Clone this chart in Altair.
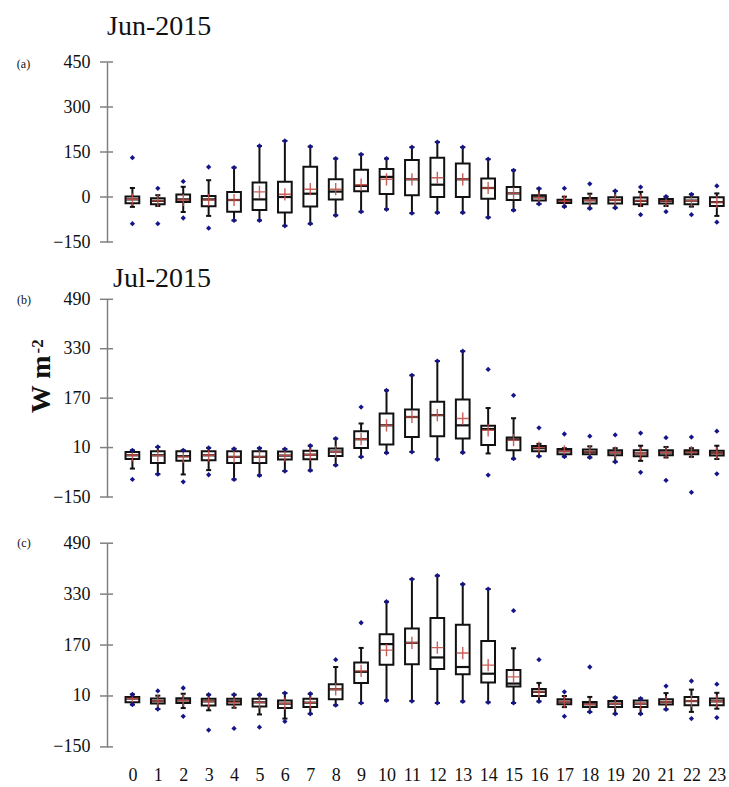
import altair as alt
import pandas as pd

hours = list(range(24))

# ---- Jun-2015: hourly distribution (W m-2) ----
jun_hi_dot = [131, 29, 52, 100, 98, 170, 187, 168, 128, 142, 128, 166, 183, 166, 126, 89, 28, 29, 44, 20, 33, 1, 9, 37]
jun_w_hi = [30, 6, 34, 56, 98, 170, 187, 168, 128, 142, 128, 166, 183, 166, 126, 89, 28, 1, 11, 20, 17, 1, 9, 12]
jun_q3 = [2, -4, 8, 3, 17, 48, 51, 101, 59, 91, 93, 123, 131, 112, 62, 33, 6, -9, -3, -1, -2, -7, -1, -1]
jun_med = [-8, -13, -8, -8, -10, -8, 0, 11, 18, 37, 67, 59, 41, 59, 30, 12, -1, -13, -11, -10, -13, -13, -12, -17]
jun_q1 = [-21, -24, -17, -31, -49, -43, -52, -32, -8, 19, 10, 6, 0, 0, -6, -10, -12, -20, -22, -22, -24, -22, -24, -30]
jun_w_lo = [-33, -30, -50, -63, -78, -78, -96, -89, -61, -49, -41, -54, -52, -52, -68, -44, -23, -32, -38, -36, -30, -30, -32, -63]
jun_lo_dot = [-89, -89, -70, -104, -78, -78, -96, -89, -61, -49, -41, -54, -52, -52, -68, -44, -23, -32, -38, -36, -59, -49, -59, -84]
jun_mean = [-8, -13, -10, -10, -10, 17, 9, 26, 26, 41, 59, 59, 64, 59, 30, 12, -2, -14, -11, -10, -13, -13, -12, -17]

# ---- Jul-2015 ----
jul_hi_dot = [1, 12, 1, 9, 6, 8, 5, 16, 39, 141, 195, 244, 290, 322, 263, 179, 74, 54, 47, 51, 57, 42, 44, 63]
jul_w_hi = [1, 12, 1, 9, 6, 8, 5, 16, 39, 88, 195, 244, 290, 322, 138, 105, 22, 8, 14, 8, 16, 12, 8, 16]
jul_q3 = [-4, -2, -2, -2, -2, -2, -3, 0, 7, 63, 120, 133, 158, 166, 81, 43, 15, 5, 4, 1, 1, 1, 1, 0]
jul_med = [-15, -15, -18, -15, -20, -20, -16, -13, -3, 37, 82, 109, 115, 82, 70, 36, 8, -2, -4, -6, -9, -6, -5, -8]
jul_q1 = [-27, -40, -33, -31, -40, -40, -29, -28, -17, 9, 20, 44, 47, 39, 18, 1, -2, -12, -12, -15, -18, -15, -12, -16]
jul_w_lo = [-58, -76, -77, -63, -93, -80, -66, -64, -47, -20, -7, -4, -28, -6, -9, -26, -18, -19, -22, -36, -33, -22, -20, -27]
jul_lo_dot = [-93, -76, -101, -78, -93, -80, -66, -64, -47, -20, -7, -4, -28, -6, -79, -26, -18, -19, -22, -36, -70, -96, -135, -75]
jul_mean = [-15, -16, -20, -15, -20, -20, -16, -13, -3, 37, 82, 109, 115, 104, 66, 34, 10, -2, -4, -6, -9, -6, -5, -8]

# ---- third month ----
c_hi_dot = [15, 26, 35, 14, 14, 14, 19, 17, 124, 240, 306, 377, 388, 361, 346, 278, 124, 23, 101, 5, 2, 41, 57, 47]
c_w_hi = [15, 11, 17, 14, 14, 14, 19, 17, 101, 161, 306, 377, 388, 361, 346, 160, 51, 10, 7, 5, 2, 19, 30, 20]
c_q3 = [7, 2, 3, 1, 1, 1, -4, 1, 47, 115, 204, 222, 255, 234, 183, 92, 32, 0, -9, -6, -4, 0, 7, 2]
c_med = [2, -6, -4, -7, -7, -10, -14, -11, 31, 86, 173, 177, 131, 101, 80, 49, 23, -8, -16, -14, -14, -9, -6, -7]
c_q1 = [-10, -14, -12, -20, -17, -23, -28, -25, 0, 51, 108, 110, 95, 78, 52, 40, 10, -16, -25, -25, -25, -17, -19, -19]
c_w_lo = [-17, -31, -28, -35, -27, -48, -61, -46, -19, -12, -4, -6, -12, -7, -10, -12, -7, -25, -40, -46, -46, -32, -40, -30]
c_lo_dot = [-17, -31, -54, -97, -92, -88, -70, -46, -19, -12, -4, -6, -12, -7, -10, -12, -7, -54, -40, -46, -46, -32, -61, -58]
c_mean = [2, -6, -4, -7, -10, -10, -14, -11, 31, 89, 154, 177, 162, 145, 107, 70, 23, -8, -16, -14, -14, -9, -6, -7]

ticks_a = [-150, 0, 150, 300, 450]
ticks_bc = [-150, 10, 170, 330, 490]

FONT = "Liberation Serif"
AXIS_GRAY = "#808080"
BOX_COLOR = "#111111"
DOT_COLOR = "#15158a"
MEAN_COLOR = "#c4504a"
PLUS = "M-1,0L1,0M0,-1L0,1"


def frame(hi_dot, w_hi, q3, med, q1, w_lo, lo_dot, mean):
    return pd.DataFrame({
        "hour": hours, "hi_dot": hi_dot, "w_hi": w_hi, "q3": q3, "med": med,
        "q1": q1, "w_lo": w_lo, "lo_dot": lo_dot, "mean": mean,
    })


def panel(df, ticks, height, yrange, show_x, notes):
    xscale = alt.Scale(domain=[-1, 23.4], nice=False, zero=False)
    yscale = alt.Scale(domain=[ticks[0], ticks[-1]], range=yrange, nice=False, zero=False)
    yaxis = alt.Axis(values=ticks, ticks=False, tickSize=0, grid=False, domainColor=AXIS_GRAY,
                     domainWidth=1.5, labelFont=FONT, labelFontSize=18, labelColor="#111",
                     labelPadding=17, title=None)
    xaxis = None
    if show_x:
        xaxis = alt.Axis(values=hours, ticks=False, tickSize=0, domain=False, grid=False,
                         labelFont=FONT, labelFontSize=18, labelColor="#111", labelPadding=20,
                         labelAngle=0, format="d", title=None)

    base = alt.Chart(df).transform_calculate(
        xl="datum.hour - 0.27", xr="datum.hour + 0.27",
        cl="datum.hour - 0.1", cr="datum.hour + 0.1",
    )

    # every layer carries the same axis definition so the merged axis keeps it
    def X(f):
        return alt.X(f, scale=xscale, axis=xaxis, title=None)

    def Y(f):
        return alt.Y(f, scale=yscale, axis=yaxis, title=None)

    whisker = base.mark_rule(color=BOX_COLOR, strokeWidth=2).encode(
        x=X("hour:Q"), y=Y("w_lo:Q"), y2="w_hi:Q")
    cap_hi = base.mark_rule(color=BOX_COLOR, strokeWidth=2).encode(
        x=X("cl:Q"), x2="cr:Q", y=Y("w_hi:Q"))
    cap_lo = base.mark_rule(color=BOX_COLOR, strokeWidth=2).encode(
        x=X("cl:Q"), x2="cr:Q", y=Y("w_lo:Q"))
    box = base.mark_rect(fill="white", stroke=BOX_COLOR, strokeWidth=2).encode(
        x=X("xl:Q"), x2="xr:Q", y=Y("q1:Q"), y2="q3:Q")
    median = base.mark_rule(color=BOX_COLOR, strokeWidth=2.2).encode(
        x=X("xl:Q"), x2="xr:Q", y=Y("med:Q"))
    mean = base.mark_point(shape=PLUS, filled=False, color=MEAN_COLOR, strokeWidth=1.4,
                           size=150, opacity=0.9).encode(x=X("hour:Q"), y=Y("mean:Q"))
    dots_hi = base.mark_point(shape="diamond", filled=True, color=DOT_COLOR, size=28,
                              opacity=1).encode(x=X("hour:Q"), y=Y("hi_dot:Q"))
    dots_lo = base.mark_point(shape="diamond", filled=True, color=DOT_COLOR, size=28,
                              opacity=1).encode(x=X("hour:Q"), y=Y("lo_dot:Q"))

    # axis ticks crossing the vertical axis line
    cross = alt.Chart(pd.DataFrame({"t": ticks})).mark_rule(
        color=AXIS_GRAY, strokeWidth=1.5).encode(
        y=Y("t:Q"), x=alt.value(-7), x2=alt.value(6))

    layers = [whisker, cross, cap_hi, cap_lo, box, median, mean, dots_hi, dots_lo]
    for text, x, y, size, weight, align, baseline, angle in notes:
        layers.append(
            alt.Chart(pd.DataFrame({"t": [text]})).mark_text(
                font=FONT, fontSize=size, fontWeight=weight, align=align,
                baseline=baseline, angle=angle, color="#111").encode(
                text="t:N", x=alt.value(x), y=alt.value(y)))
    return alt.layer(*layers).properties(width=620, height=height)


df_a = frame(jun_hi_dot, jun_w_hi, jun_q3, jun_med, jun_q1, jun_w_lo, jun_lo_dot, jun_mean)
df_b = frame(jul_hi_dot, jul_w_hi, jul_q3, jul_med, jul_q1, jul_w_lo, jul_lo_dot, jul_mean)
df_c = frame(c_hi_dot, c_w_hi, c_q3, c_med, c_q1, c_w_lo, c_lo_dot, c_mean)

panel_a = panel(df_a, ticks_a, 180, [180, 0], False, [
    ("Jun-2015", 0, -27, 28, "normal", "left", "alphabetic", 0),
    ("(a)", -83.5, 1.5, 12, "normal", "center", "middle", 0),
])
# invisible anchor fixing the page origin
anchor = alt.Chart(pd.DataFrame({"t": [0]})).mark_rule(opacity=0, strokeWidth=0.5).encode(
    x=alt.value(-107), x2=alt.value(-106), y=alt.value(-61.7))
panel_a = alt.layer(panel_a, anchor)

panel_b = panel(df_b, ticks_bc, 209.4, [209.4, 11.7], False, [
    ("Jul-2015", 6, -0.6, 28, "normal", "left", "alphabetic", 0),
    ("(b)", -83, 12.7, 12, "normal", "center", "middle", 0),
    ("W m", -57, 96.7, 28, "bold", "center", "alphabetic", 270),
    ("-2", -63.7, 58.7, 17, "bold", "center", "alphabetic", 270),
])

panel_c = panel(df_c, ticks_bc, 203.7, [203.7, 0], True, [
    ("(c)", -83, 0.2, 12, "normal", "center", "middle", 0),
])

chart = alt.vconcat(panel_a, panel_b, panel_c, spacing=45.6, bounds="flush").properties(
    padding=0, background="white"
).configure_view(stroke=None)

chart.save("out.html", embed_options={"renderer": "svg", "actions": False})
